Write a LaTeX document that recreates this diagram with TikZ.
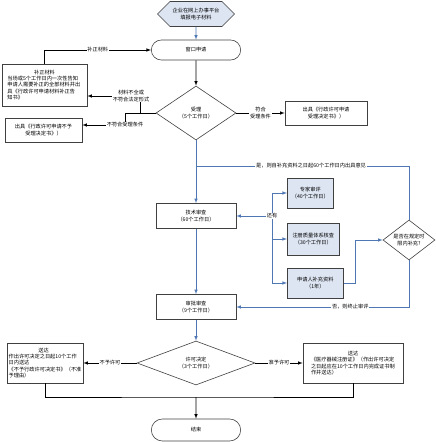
\documentclass[tikz,border=0pt]{standalone}
\usepackage{fontspec}
\newfontfamily\cjk{Noto Sans CJK SC}
\usetikzlibrary{shapes.geometric,shapes.misc,shapes.symbols}
\definecolor{lineblue}{RGB}{79,119,180}
\definecolor{boxblue}{RGB}{221,229,242}

\begin{document}
\begin{tikzpicture}[x=1pt,y=-1pt,>=latex,line width=0.6pt,
    every node/.style={font=\cjk\fontsize{5.2}{6.4}\selectfont},
    box/.style={rectangle,draw=black!75,inner sep=1pt,align=center},
    subbox/.style={box,fill=boxblue,anchor=west,minimum height=30pt},
    endbox/.style={rounded rectangle,draw=black!75,minimum width=96pt,minimum height=20pt},
    hexa/.style={signal,signal to=west and east,draw=black!75,fill=boxblue,align=center,
      minimum width=77pt,minimum height=25pt,inner sep=1pt},
    check/.style={diamond,draw=black!75,inner sep=0pt,align=center},
    lbl/.style={fill=white,inner sep=0.8pt,align=center},
    flow/.style={draw=lineblue}]
  \useasboundingbox (0,0) rectangle (436,442);

  % nodes
  \node[hexa] (start) at (196,14) {企业在网上办事平台\\填报电子材料};
  \node[endbox] (apply) at (196,50) {窗口申请};
  \node[box,minimum width=85pt,minimum height=42pt,align=left] (fix) at (44.5,85)
    {\makebox[74pt]{补正材料}\\当场或5个工作日内一次性告知\\申请人需要补正的全部材料并出\\具《行政许可申请材料补正告\\知书》};
  \node[box,minimum width=77pt,minimum height=24pt] (reject) at (43.5,130) {出具《行政许可申请不予\\受理决定书》）};
  \node[check,minimum width=80pt,minimum height=54pt,aspect=1.5] (accept) at (196,113) {受理\\（5个工作日）};
  \node[box,minimum width=82pt,minimum height=24pt] (notice) at (326,113) {出具《行政许可申请\\受理决定书》）};
  \node[box,minimum width=80pt,minimum height=25pt] (tech) at (196,216) {技术审查\\（60个工作日）};
  \node[subbox,minimum width=46pt] (expert) at (287,193) {专家审评\\（40个工作日）};
  \node[subbox,minimum width=52pt,minimum height=32pt] (qms) at (287,239) {注册质量体系核查\\（30个工作日）};
  \node[subbox,minimum width=56pt] (supp) at (287,283) {申请人补充资料\\（1年）};
  \node[check,minimum width=52pt,minimum height=40pt,aspect=1.4] (limit) at (409,240) {是否在规定时\\限内补充?};
  \node[box,minimum width=80pt,minimum height=25pt] (appr) at (196,307) {审批审查\\（9个工作日）};
  \node[check,minimum width=118pt,minimum height=44pt,aspect=2.5] (decide) at (196,363) {许可决定\\（3个工作日）};
  \node[box,minimum width=76pt,minimum height=40pt,align=left] (deny) at (45,363)
    {\makebox[70pt]{送达}\\作出许可决定之日起10个工作\\日内送达\\《不予行政许可决定书》（不准\\予理由）};
  \node[box,minimum width=100pt,minimum height=40pt,align=left] (grant) at (353,363)
    {\makebox[84pt]{送达}\\《医疗器械注册证》（作出许可决定\\之日起应在10个工作日内完成证书制\\作并送达）};
  \node[endbox,minimum height=22pt] (finish) at (196,430) {结束};

  % helper points
  \coordinate (k0) at (125,113);
  \coordinate (k1) at (140,96);
  \coordinate (k2) at (125,125);
  \coordinate (yes) at (196,166);
  \coordinate (br) at (272,216);
  \coordinate (m) at (196,397);

  % connectors
  \draw[flow,->] (start) -- (apply);
  \draw[->] (apply) -- (accept);
  \draw[->] (fix.north) |- (apply.west) node[lbl,pos=0.75] {补正材料};
  \draw (accept.west) -- (k0);
  \draw[->] (k0 -| k1) -- (k1) node[lbl,xshift=-9pt] {材料不全或\\不符合法定形式} -- (k1 -| fix.east);
  \draw[->] (k0) -- (k2) node[lbl] {不符合受理条件} -- (k2 -| reject.east);
  \draw[->] (accept) -- (notice) node[lbl,midway] {符合\\受理条件};
  \draw[flow,->] (accept) -- (tech);
  \draw[flow] (limit.north) |- (yes) node[lbl,pos=0.73] {是，则自补充资料之日起60个工作日内出具意见};
  \draw[flow,->] (br) -- (tech.east);
  \draw[flow,->] (br) |- (expert.west);
  \draw[flow,->] (br) |- (qms.west);
  \draw[flow,->] (br) |- (supp.west);
  \node[lbl] at (br) {还有};
  \draw[flow,->] (supp.east) -- ++(12,0) |- (limit.west);
  \draw[flow,->] (limit.south) |- (appr.east) node[lbl,pos=0.67] {否，则终止审评};
  \draw[flow,->] (tech) -- (appr);
  \draw[flow,->] (appr) -- (decide);
  \draw[->] (decide) -- (deny) node[lbl,midway] {不予许可};
  \draw[->] (decide) -- (grant) node[lbl,midway] {准予许可};
  \draw (deny.south) |- (m) -| (grant.south);
  \draw[->] (m) -- (finish);
\end{tikzpicture}
\end{document}
